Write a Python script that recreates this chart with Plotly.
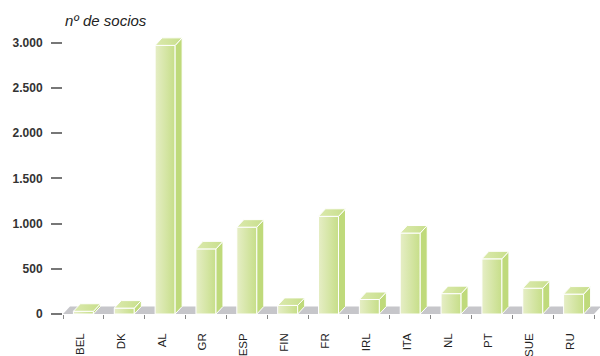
import plotly.graph_objects as go

# Membership per country
countries = ["BEL", "DK", "AL", "GR", "ESP", "FIN", "FR", "IRL", "ITA", "NL", "PT", "SUE", "RU"]
members = [30, 65, 2970, 720, 960, 95, 1080, 160, 895, 225, 610, 285, 220]

y_ticks = [0, 500, 1000, 1500, 2000, 2500, 3000]
y_title = "nº de socios"

# 3D look parameters (in axis units)
HALF_W = 0.245      # half width of the bar front face
DX = 0.171          # depth offset to the right
DY = 83             # depth offset upward
Y_MAX = 3140

FRONT_SCALE = [[0, "#e6eec6"], [1, "#c6de88"]]
TOP_SCALE = [[0, "#dbe9ad"], [1, "#c8df8c"]]
SIDE_COLOR = "#bfda7b"
FLOOR_COLOR = "#c6c6ca"

FONT = "Arial, Liberation Sans, Helvetica, sans-serif"

fig = go.Figure()

n = len(countries)

# floor
fig.add_trace(go.Scatter(
    x=[-0.5, n - 0.5, n - 0.5 + DX, -0.5 + DX, -0.5],
    y=[0, 0, DY, DY, 0],
    fill="toself", fillcolor=FLOOR_COLOR, mode="lines",
    line=dict(width=0, color=FLOOR_COLOR), hoverinfo="skip", showlegend=False,
))

for i, v in enumerate(members):
    x0, x1 = i - HALF_W, i + HALF_W
    # front face
    fig.add_trace(go.Scatter(
        x=[x0, x1, x1, x0, x0], y=[0, 0, v, v, 0],
        fill="toself", mode="lines",
        fillgradient=dict(type="horizontal", colorscale=FRONT_SCALE),
        line=dict(width=1, color="white"), hoverinfo="skip", showlegend=False,
    ))
    # side face
    fig.add_trace(go.Scatter(
        x=[x1, x1 + DX, x1 + DX, x1, x1], y=[0, DY, v + DY, v, 0],
        fill="toself", fillcolor=SIDE_COLOR, mode="lines",
        line=dict(width=1, color="white"), hoverinfo="skip", showlegend=False,
    ))
    # top face
    fig.add_trace(go.Scatter(
        x=[x0, x1, x1 + DX, x0 + DX, x0], y=[v, v, v + DY, v + DY, v],
        fill="toself", mode="lines",
        fillgradient=dict(type="horizontal", colorscale=TOP_SCALE),
        line=dict(width=1, color="white"), hoverinfo="skip", showlegend=False,
    ))

fig.update_layout(
    width=600, height=356,
    margin=dict(l=63, r=0, t=30, b=42),
    paper_bgcolor="white", plot_bgcolor="white",
    separators=",.",
    font=dict(family=FONT, color="#222"),
    annotations=[dict(
        text=y_title, xref="paper", yref="paper", x=0, y=1.035,
        xanchor="left", yanchor="middle", showarrow=False,
        font=dict(family=FONT, size=15, style="italic", color="#222"),
    )],
)

fig.update_xaxes(
    range=[-0.5, n - 0.5 + 0.146], automargin=False,
    tickvals=[i - 0.08 for i in range(n)], ticktext=countries, tickangle=-90,
    ticks="", showline=False, showgrid=False, zeroline=False,
    tickfont=dict(family=FONT, size=11.5, color="#222"),
    ticklabelstandoff=16,
    minor=dict(tickvals=[i - 0.5 for i in range(n + 1)], ticks="outside",
               ticklen=4, tickwidth=1, tickcolor="#888"),
)

fig.update_yaxes(
    range=[0, Y_MAX], tickvals=y_ticks, tickformat=",d", automargin=False,
    ticks="outside", ticklen=11, tickwidth=1.6, tickcolor="#777",
    showline=False, showgrid=False, zeroline=False,
    tickfont=dict(family=FONT, size=12, color="#333", weight="bold"),
    ticklabelstandoff=6,
)

fig.write_html("out.html")
